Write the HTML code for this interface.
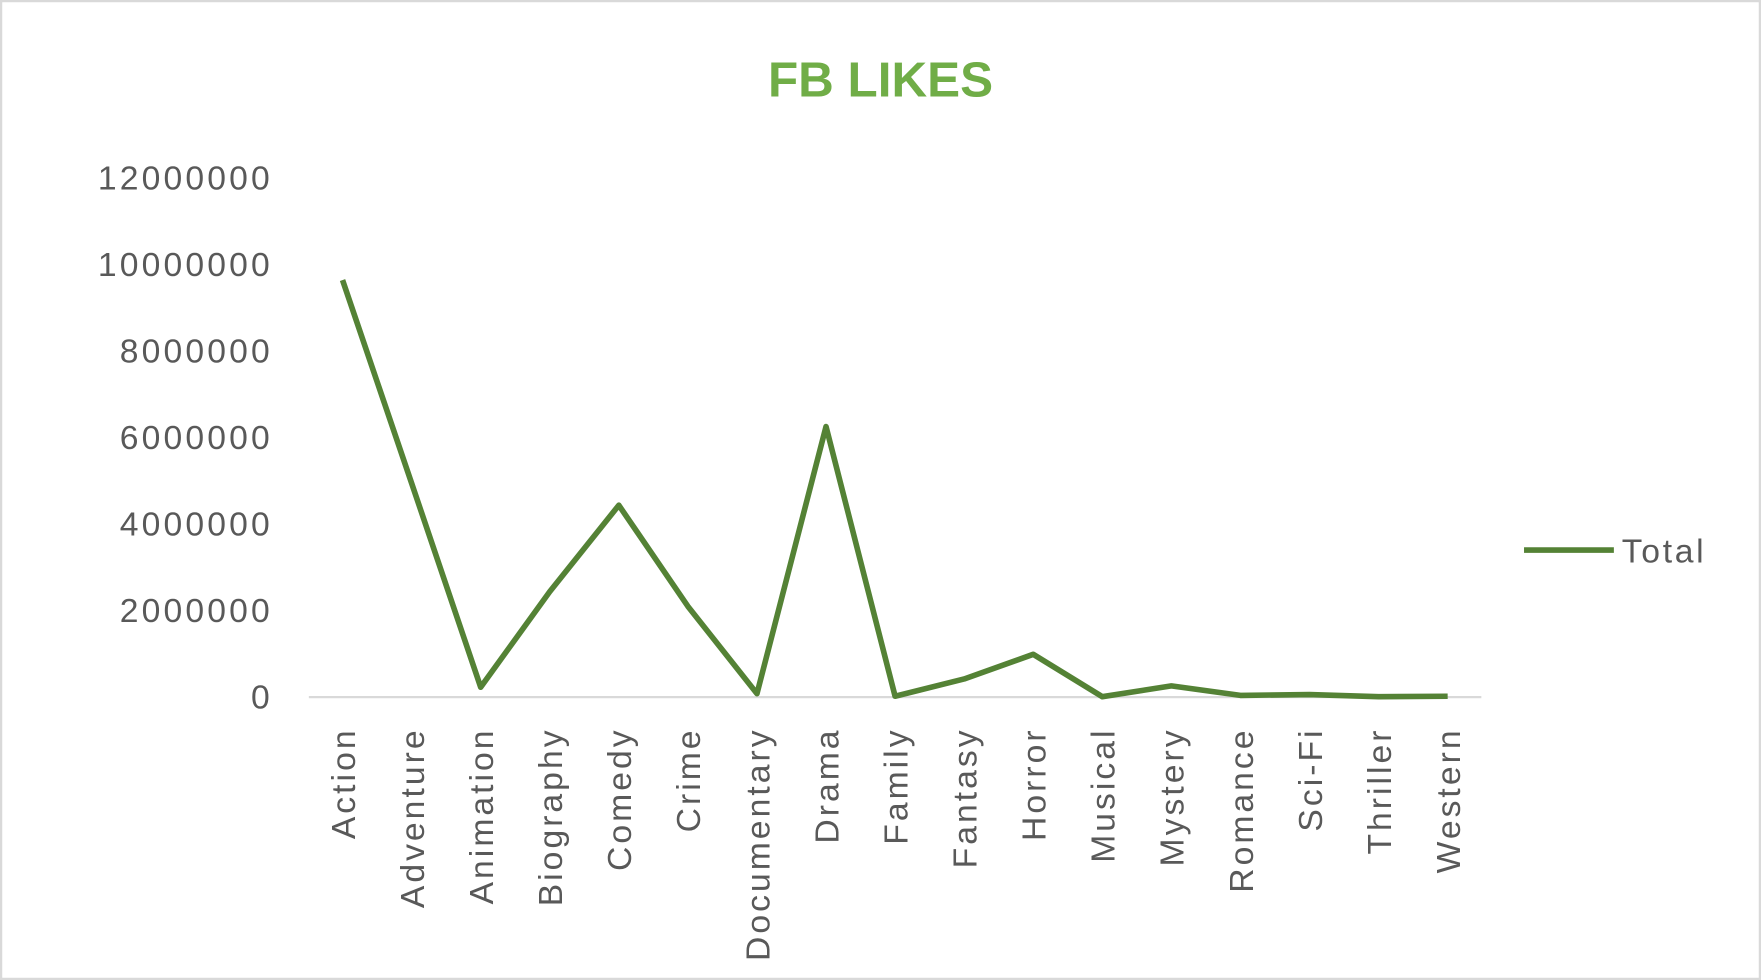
<!DOCTYPE html>
<html><head><meta charset="utf-8"><style>
html,body{margin:0;padding:0;background:#fff}
svg{display:block}
text{font-family:"Liberation Sans",sans-serif}
</style></head><body>
<svg id="chart" width="1761" height="980" viewBox="0 0 1568 873" preserveAspectRatio="none" xmlns="http://www.w3.org/2000/svg">
<rect x="1" y="1" width="1566" height="871" fill="#fff" stroke="#d9d9d9" stroke-width="2"/>
<text x="784" y="86" text-anchor="middle" font-size="44" font-weight="bold" fill="#70ad47">FB LIKES</text>
<g id="yaxis"></g>
<g id="xaxis"></g>
<line x1="275" y1="621" x2="1319" y2="621" stroke="#d9d9d9" stroke-width="2"/>
<polyline id="series" fill="none" stroke="#548235" stroke-width="5" stroke-linejoin="round"/>
<g>
<line x1="1357" y1="490" x2="1437" y2="490" stroke="#548235" stroke-width="5"/>
<text x="1444" y="501" font-size="30" letter-spacing="2.4" fill="#595959">Total</text>
</g>
</svg>
<script>
const categories=["Action","Adventure","Animation","Biography","Comedy","Crime","Documentary","Drama","Family","Fantasy","Horror","Musical","Mystery","Romance","Sci-Fi","Thriller","Western"];
const totals=[9650000,4950000,230000,2440000,4440000,2100000,80000,6260000,20000,420000,990000,10000,260000,40000,60000,10000,20000];
const yTicks=[0,2000000,4000000,6000000,8000000,10000000,12000000];
const NS="http://www.w3.org/2000/svg";
const yMax=12000000, y0=621, yTop=159, xFirst=305, xStep=61.5;
function yScale(v){return y0-(v/yMax)*(y0-yTop);}
function xScale(i){return xFirst+i*xStep;}
const ya=document.getElementById('yaxis');
yTicks.forEach(t=>{
 const el=document.createElementNS(NS,'text');
 el.setAttribute('x',243);el.setAttribute('y',yScale(t)+10);
 el.setAttribute('text-anchor','end');el.setAttribute('font-size','30');el.setAttribute('fill','#595959');
 el.setAttribute('letter-spacing','2.8');
 
 
 el.textContent=String(t);ya.appendChild(el);
});
const xa=document.getElementById('xaxis');
categories.forEach((c,i)=>{
 const el=document.createElementNS(NS,'text');
 const x=xScale(i)+11,y=648;
 el.setAttribute('x',x);el.setAttribute('y',y);
 el.setAttribute('transform','rotate(-90 '+x+' '+y+')');
 el.setAttribute('text-anchor','end');el.setAttribute('font-size','30');el.setAttribute('fill','#595959');
 el.setAttribute('letter-spacing','2.7');
 
 
 el.textContent=c;xa.appendChild(el);
});
document.getElementById('series').setAttribute('points',totals.map((v,i)=>xScale(i)+','+yScale(v)).join(' '));
</script>
</body></html>
